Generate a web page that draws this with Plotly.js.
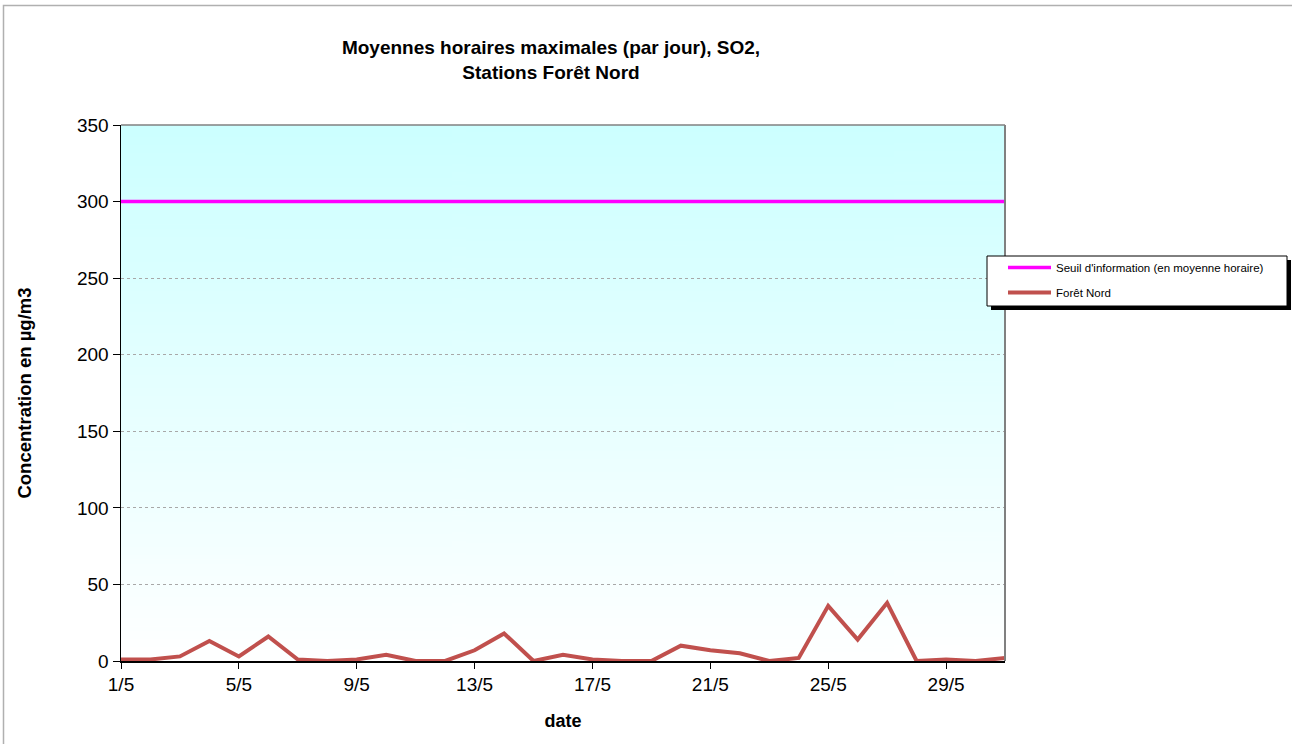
<!DOCTYPE html>
<html>
<head>
<meta charset="utf-8">
<script src="https://cdn.plot.ly/plotly-3.0.1.min.js"></script>
<style>html,body{margin:0;padding:0;background:#fff;}#chart{width:1292px;height:744px;}</style>
</head>
<body>
<div id="chart"></div>
<script>
const dates = ['1/5','2/5','3/5','4/5','5/5','6/5','7/5','8/5','9/5','10/5','11/5','12/5','13/5','14/5','15/5','16/5','17/5','18/5','19/5','20/5','21/5','22/5','23/5','24/5','25/5','26/5','27/5','28/5','29/5','30/5','31/5'];
const seuil = [300,300,300,300,300,300,300,300,300,300,300,300,300,300,300,300,300,300,300,300,300,300,300,300,300,300,300,300,300,300,300];
const foretNord = [1,1,3,13,3,16,1,0,1,4,0,0,7,18,0,4,1,0,0,10,7,5,0,2,36,14,38,0,1,0,2];
const tickLabels = ['1/5','5/5','9/5','13/5','17/5','21/5','25/5','29/5'];
const yTicks = [0,50,100,150,200,250,300,350];

// layout geometry (pixels)
const W = 1292, H = 744, L = 121, R = 1005, T = 125, B = 661;
const pw = R - L, ph = B - T;
const px = x => (x - L) / pw;
const py = y => (B - y) / ph;

// gradient background image
const cv = document.createElement('canvas');
cv.width = 4; cv.height = 256;
const ctx = cv.getContext('2d');
const g = ctx.createLinearGradient(0, 0, 0, 256);
g.addColorStop(0, '#CCFFFF');
g.addColorStop(1, '#FFFFFF');
ctx.fillStyle = g; ctx.fillRect(0, 0, 4, 256);
const gradURL = cv.toDataURL();

const font = 'Liberation Sans, Arial, sans-serif';

const traces = [
  {x: dates, y: seuil, type: 'scatter', mode: 'lines', name: "Seuil d'information (en moyenne horaire)",
   line: {color: '#FF00FF', width: 3.5}, legendgroup: 'a'},
  {x: dates, y: foretNord, type: 'scatter', mode: 'lines', name: 'Forêt Nord',
   line: {color: '#C0504D', width: 4}, legendgroup: 'b'}
];

const layout = {
  width: W, height: H,
  margin: {l: L, r: W - R, t: T, b: H - B, pad: 0},
  paper_bgcolor: '#FFFFFF',
  plot_bgcolor: 'rgba(0,0,0,0)',
  font: {family: font, color: '#000'},
  title: {
    text: '<b>Moyennes horaires maximales (par jour), SO2,<br>Stations Forêt Nord</b>',
    font: {size: 19, family: font, color: '#000'},
    xref: 'paper', x: px(551), xanchor: 'center',
    yref: 'container', y: 1 - 54 / H, yanchor: 'top'
  },
  xaxis: {
    type: 'category', range: [0, 30], autorange: false,
    tickvals: tickLabels, ticktext: tickLabels,
    ticks: 'outside', ticklen: 6, tickcolor: '#000', tickwidth: 1,
    showline: true, linecolor: '#000', linewidth: 1.5,
    showgrid: false, zeroline: false,
    tickfont: {size: 19, family: font, color: '#000'},
    title: {text: '<b>date</b>', font: {size: 18, family: font, color: '#000'}, standoff: 20}
  },
  yaxis: {
    range: [0, 350], autorange: false,
    tickvals: yTicks,
    ticks: 'outside', ticklen: 7, tickcolor: '#000', tickwidth: 1,
    showline: true, linecolor: '#000', linewidth: 1.5,
    showgrid: true, gridcolor: '#A8A8A8', griddash: 'dot', gridwidth: 1,
    zeroline: false,
    tickfont: {size: 19, family: font, color: '#000'},
    title: {text: '<b>Concentration en µg/m3</b>', font: {size: 18.5, family: font, color: '#000'}, standoff: 40}
  },
  legend: {
    x: px(1003), y: py(253), xanchor: 'left', yanchor: 'top',
    bgcolor: 'rgba(0,0,0,0)', borderwidth: 0,
    font: {size: 11.5, family: font, color: '#000'},
    traceorder: 'grouped', tracegroupgap: 6, itemwidth: 43
  },
  images: [{
    source: gradURL, xref: 'paper', yref: 'paper', x: 0, y: 1, sizex: 1, sizey: 1,
    sizing: 'stretch', layer: 'below', xanchor: 'left', yanchor: 'top'
  }],
  shapes: [
    // outer chart border (left and top)
    {type: 'path', xref: 'paper', yref: 'paper',
     path: `M ${px(3.5)} ${py(H + 5)} L ${px(3.5)} ${py(5.5)} L ${px(W + 5)} ${py(5.5)}`,
     line: {color: '#B0B0B0', width: 1.5}},
    // plot area top and right border
    {type: 'line', xref: 'paper', yref: 'paper', x0: 0, x1: 1, y0: 1, y1: 1, line: {color: '#808080', width: 1.5}},
    {type: 'line', xref: 'paper', yref: 'paper', x0: 1, x1: 1, y0: 0, y1: 1, line: {color: '#808080', width: 2}},
    // legend shadow
    {type: 'rect', xref: 'paper', yref: 'paper', x0: px(991), x1: px(1291), y0: py(310), y1: py(260),
     fillcolor: '#000', line: {width: 0}},
    // legend box
    {type: 'rect', xref: 'paper', yref: 'paper', x0: px(987), x1: px(1287), y0: py(306), y1: py(256),
     fillcolor: '#FFF', line: {color: '#000', width: 1}}
  ],
  showlegend: true
};

Plotly.newPlot('chart', traces, layout, {displayModeBar: false, staticPlot: true});
</script>
</body>
</html>
